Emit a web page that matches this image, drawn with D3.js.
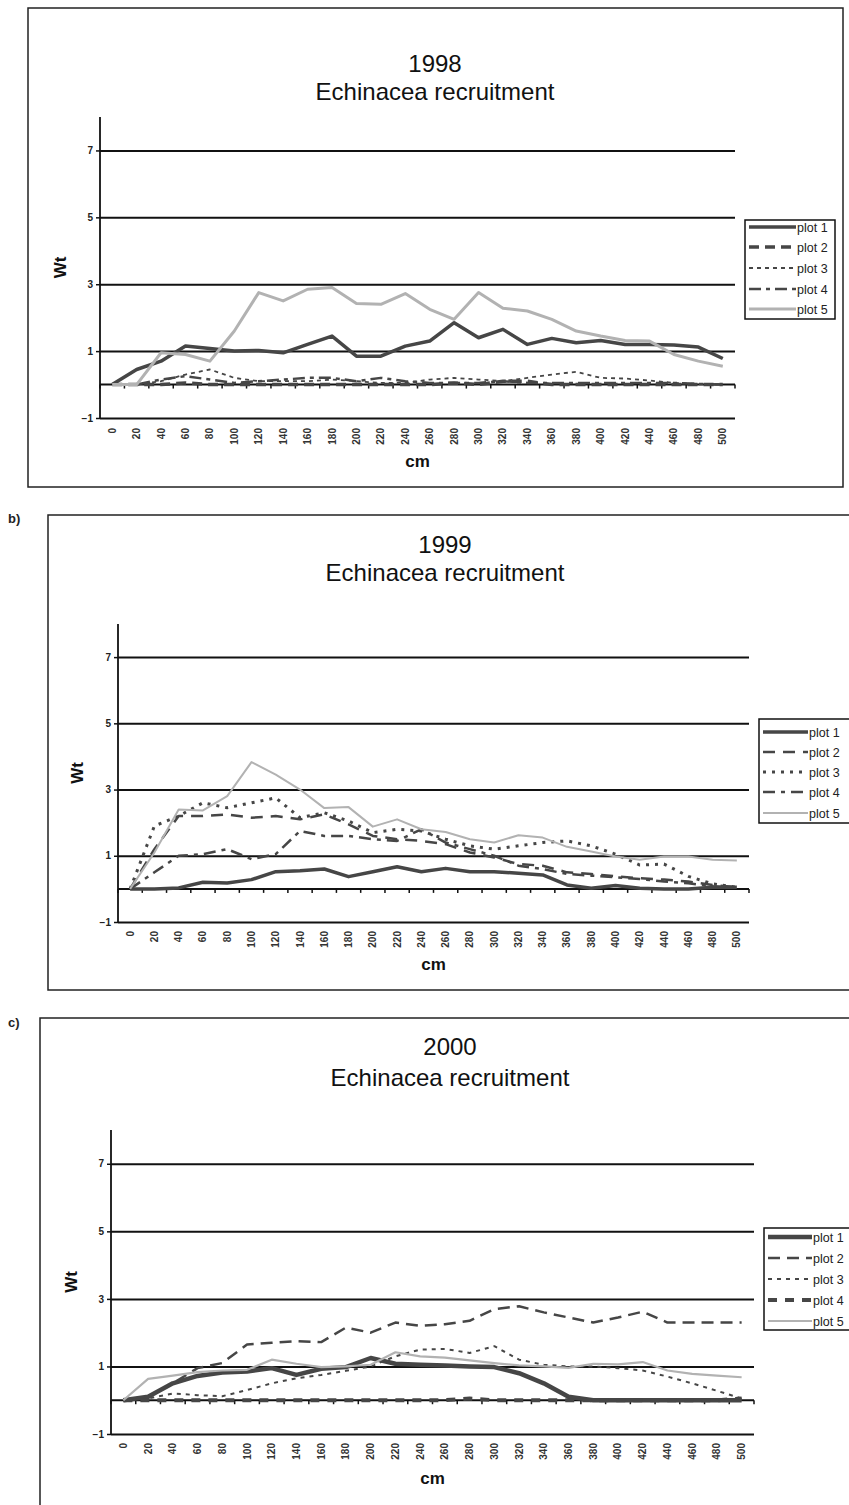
<!DOCTYPE html>
<html>
<head>
<meta charset="utf-8">
<script src="https://cdn.jsdelivr.net/npm/d3@7"></script>
<style>
  body { margin: 0; background: #fff; }
  svg { display: block; font-family: "Liberation Sans", Arial, sans-serif; }
</style>
</head>
<body>
<svg id="chart" width="849" height="1505"></svg>
<script>
// Category labels (cm) and y tick values
const categories = ["0","20","40","60","80","100","120","140","160","180","200","220","240","260","280","300","320","340","360","380","400","420","440","460","480","500"];
const yTicks = [-1, 1, 3, 5, 7];
const seriesNames = ["plot 1", "plot 2", "plot 3", "plot 4", "plot 5"];

// 1998
const plot1_1998 = [0, 0.45, 0.7, 1.15, 1.08, 1.0, 1.02, 0.95, 1.2, 1.45, 0.85, 0.85, 1.15, 1.3, 1.85, 1.4, 1.65, 1.2, 1.38, 1.25, 1.32, 1.2, 1.2, 1.18, 1.12, 0.78];
const plot2_1998 = [0, 0, 0, 0.05, 0, 0, 0, 0, 0, 0, 0, 0, 0, 0, 0.05, 0, 0.1, 0.1, 0, 0, 0, 0, 0, 0, 0, 0];
const plot3_1998 = [0, 0, 0.1, 0.3, 0.45, 0.2, 0.1, 0.1, 0.1, 0.15, 0.1, 0.05, 0.05, 0.15, 0.2, 0.15, 0.1, 0.2, 0.3, 0.38, 0.2, 0.18, 0.12, 0.05, 0.02, 0];
const plot4_1998 = [0, 0, 0.15, 0.25, 0.15, 0.05, 0.1, 0.15, 0.2, 0.2, 0.1, 0.2, 0.1, 0.05, 0.05, 0.05, 0.1, 0.05, 0.05, 0.05, 0.05, 0.05, 0.05, 0.05, 0.02, 0];
const plot5_1998 = [0, 0, 0.95, 0.9, 0.7, 1.6, 2.75, 2.5, 2.85, 2.9, 2.42, 2.4, 2.72, 2.25, 1.95, 2.75, 2.28, 2.2, 1.95, 1.6, 1.45, 1.32, 1.3, 0.9, 0.7, 0.55];

// 1999
const plot1_1999 = [0, 0, 0.03, 0.2, 0.18, 0.28, 0.52, 0.55, 0.6, 0.37, 0.52, 0.67, 0.52, 0.62, 0.52, 0.52, 0.47, 0.42, 0.12, 0.02, 0.1, 0.02, 0, 0, 0.05, 0.05];
const plot2_1999 = [0, 1.2, 2.2, 2.2, 2.25, 2.15, 2.2, 2.1, 2.25, 1.95, 1.6, 1.5, 1.45, 1.35, 1.1, 0.95, 0.75, 0.7, 0.5, 0.45, 0.38, 0.32, 0.28, 0.22, 0.12, 0.05];
const plot3_1999 = [0, 1.9, 2.2, 2.6, 2.45, 2.6, 2.75, 2.15, 2.3, 2.05, 1.7, 1.8, 1.75, 1.5, 1.3, 1.2, 1.3, 1.4, 1.45, 1.3, 1.05, 0.72, 0.75, 0.38, 0.15, 0.05];
const plot4_1999 = [0, 0.5, 1.0, 1.05, 1.2, 0.9, 1.05, 1.75, 1.6, 1.6, 1.5, 1.45, 1.8, 1.4, 1.2, 1.0, 0.7, 0.6, 0.45, 0.4, 0.35, 0.3, 0.22, 0.17, 0.08, 0.03];
const plot5_1999 = [0, 1.1, 2.4, 2.37, 2.8, 3.83, 3.45, 3.0, 2.44, 2.47, 1.88, 2.1, 1.8, 1.72, 1.5, 1.4, 1.62, 1.55, 1.27, 1.13, 0.98, 0.88, 0.98, 0.98, 0.88, 0.86];

// 2000
const plot1_2000 = [0, 0.1, 0.5, 0.72, 0.82, 0.85, 0.95, 0.75, 0.93, 0.98, 1.25, 1.08, 1.05, 1.03, 1.0, 0.98, 0.8, 0.5, 0.1, 0, 0, 0, 0, 0, 0, 0];
const plot2_2000 = [0, 0.1, 0.5, 0.95, 1.1, 1.65, 1.7, 1.75, 1.72, 2.15, 2.0, 2.3, 2.2, 2.25, 2.35, 2.7, 2.78, 2.6, 2.45, 2.3, 2.45, 2.62, 2.3, 2.3, 2.3, 2.3];
const plot3_2000 = [0, 0.05, 0.2, 0.15, 0.12, 0.3, 0.5, 0.65, 0.75, 0.87, 1.0, 1.3, 1.5, 1.52, 1.4, 1.6, 1.2, 1.05, 1.0, 1.0, 0.95, 0.88, 0.7, 0.5, 0.28, 0.05];
const plot4_2000 = [0, 0, 0, 0, 0, 0, 0, 0, 0, 0, 0, 0, 0, 0, 0.05, 0, 0, 0, 0, 0, 0, 0, 0, 0, 0, 0.05];
const plot5_2000 = [0, 0.63, 0.73, 0.83, 0.88, 0.9, 1.2, 1.08, 0.98, 1.0, 1.05, 1.42, 1.3, 1.26, 1.18, 1.1, 1.03, 1.0, 0.96, 1.08, 1.06, 1.13, 0.88, 0.78, 0.73, 0.68];

const DARK = "#464646";
const LIGHT = "#b2b2b2";

// line styles, one per series, per panel
const styles1998 = [
  { color: DARK, width: 3.5, dash: null },
  { color: DARK, width: 3.5, dash: "10,6" },
  { color: DARK, width: 1.8, dash: "4,4" },
  { color: DARK, width: 2.5, dash: "12,5,4,5" },
  { color: LIGHT, width: 3, dash: null }
];
const styles1999 = [
  { color: DARK, width: 3.5, dash: null },
  { color: DARK, width: 2.5, dash: "12,8" },
  { color: DARK, width: 3, dash: "3,6" },
  { color: DARK, width: 2.5, dash: "12,6,4,6" },
  { color: LIGHT, width: 2, dash: null }
];
const styles2000 = [
  { color: DARK, width: 4.5, dash: null },
  { color: DARK, width: 2.5, dash: "12,7" },
  { color: DARK, width: 2, dash: "4,5" },
  { color: DARK, width: 4, dash: "9,8" },
  { color: LIGHT, width: 2.2, dash: null }
];

const panels = [
  {
    year: "1998", tag: null,
    series: [plot1_1998, plot2_1998, plot3_1998, plot4_1998, plot5_1998], styles: styles1998,
    frame: [28, 8, 815, 479], left: 100, right: 735, top: 117, bottom: 418,
    titleX: 435, titleY: [72, 100], wtX: 66, cmY: 467, labelY: 428,
    legend: { x: 745, y: 220, w: 90, h: 99, rows: [227, 247, 268, 289, 309], lineX: [749, 796], textX: 797 }
  },
  {
    year: "1999", tag: "b)", tagY: 523,
    series: [plot1_1999, plot2_1999, plot3_1999, plot4_1999, plot5_1999], styles: styles1999,
    frame: [48, 515, 830, 475], left: 118, right: 749, top: 624, bottom: 922,
    titleX: 445, titleY: [553, 581], wtX: 83, cmY: 970, labelY: 931,
    legend: { x: 759, y: 719, w: 100, h: 104, rows: [732, 752, 772, 792, 813], lineX: [763, 808], textX: 809 }
  },
  {
    year: "2000", tag: "c)", tagY: 1027,
    series: [plot1_2000, plot2_2000, plot3_2000, plot4_2000, plot5_2000], styles: styles2000,
    frame: [40, 1018, 830, 495], left: 111, right: 754, top: 1130, bottom: 1434,
    titleX: 450, titleY: [1055, 1086], wtX: 77, cmY: 1484, labelY: 1443,
    legend: { x: 764, y: 1228, w: 100, h: 102, rows: [1237, 1258, 1279, 1300, 1321], lineX: [768, 812], textX: 813 }
  }
];

const svg = d3.select("#chart");

function drawPanel(p) {
  const g = svg.append("g");

  // chart area border
  g.append("rect")
    .attr("x", p.frame[0]).attr("y", p.frame[1])
    .attr("width", p.frame[2]).attr("height", p.frame[3])
    .attr("fill", "none").attr("stroke", "#222").attr("stroke-width", 1.5);

  if (p.tag) {
    svg.append("text")
      .attr("x", 8).attr("y", p.tagY)
      .attr("font-size", 13).attr("font-weight", "bold").attr("fill", "#222")
      .text(p.tag);
  }

  // titles
  g.append("text").attr("x", p.titleX).attr("y", p.titleY[0])
    .attr("text-anchor", "middle").attr("font-size", 24).attr("fill", "#111").text(p.year);
  g.append("text").attr("x", p.titleX).attr("y", p.titleY[1])
    .attr("text-anchor", "middle").attr("font-size", 24).attr("fill", "#111").text("Echinacea recruitment");

  const x = d3.scaleBand().domain(categories).range([p.left, p.right]);
  const y = d3.scaleLinear().domain([-1, 8]).range([p.bottom, p.top]);
  const cx = (c) => x(c) + x.bandwidth() / 2;

  // gridlines + y axis labels
  const yAxis = d3.axisLeft(y).tickValues(yTicks).tickSize(4).tickFormat(d3.format("d"));
  const yg = g.append("g").attr("transform", `translate(${p.left},0)`).call(yAxis);
  yg.select(".domain").remove();
  yg.selectAll(".tick line").attr("stroke", "#111").attr("stroke-width", 1.5);
  yg.selectAll(".tick text")
    .attr("font-size", 10).attr("font-weight", "bold").attr("fill", "#222")
    .attr("font-family", "Liberation Sans, Arial, sans-serif").attr("x", -7);

  const grid = d3.axisLeft(y).tickValues(yTicks).tickSize(-(p.right - p.left)).tickFormat("");
  const gg = g.append("g").attr("transform", `translate(${p.left},0)`).call(grid);
  gg.select(".domain").remove();
  gg.selectAll(".tick line").attr("stroke", "#111").attr("stroke-width", 2);

  // value axis line
  g.append("line")
    .attr("x1", p.left).attr("x2", p.left)
    .attr("y1", y(8)).attr("y2", y(-1))
    .attr("stroke", "#111").attr("stroke-width", 1.8);

  // category axis crossing at 0, ticks between categories
  const y0 = y(0);
  g.append("line")
    .attr("x1", p.left).attr("x2", p.right)
    .attr("y1", y0).attr("y2", y0)
    .attr("stroke", "#111").attr("stroke-width", 2);
  const tickPos = categories.map((c) => x(c)).concat([p.right]);
  g.selectAll(".xtick").data(tickPos).enter().append("line")
    .attr("x1", (d) => d).attr("x2", (d) => d)
    .attr("y1", y0).attr("y2", y0 + 4)
    .attr("stroke", "#111").attr("stroke-width", 1.5);

  // rotated category labels at the bottom
  g.selectAll(".xlab").data(categories).enter().append("text")
    .attr("transform", (d) => `translate(${cx(d) + 3.5},${p.labelY}) rotate(-90)`)
    .attr("text-anchor", "end")
    .attr("font-size", 10).attr("font-weight", "bold").attr("fill", "#333")
    .text((d) => d);

  // axis titles
  g.append("text")
    .attr("transform", `translate(${p.wtX},${(p.top + p.bottom) / 2}) rotate(-90)`)
    .attr("text-anchor", "middle").attr("font-size", 17).attr("font-weight", "bold").attr("fill", "#111")
    .text("Wt");
  g.append("text")
    .attr("x", (p.left + p.right) / 2).attr("y", p.cmY)
    .attr("text-anchor", "middle").attr("font-size", 17).attr("font-weight", "bold").attr("fill", "#111")
    .text("cm");

  // series lines
  const line = d3.line()
    .x((d, i) => cx(categories[i]))
    .y((d) => y(d));

  p.series.forEach((vals, k) => {
    const s = p.styles[k];
    g.append("path")
      .datum(vals)
      .attr("fill", "none")
      .attr("stroke", s.color)
      .attr("stroke-width", s.width)
      .attr("stroke-dasharray", s.dash)
      .attr("stroke-linejoin", "round")
      .attr("d", line);
  });

  // legend
  const L = p.legend;
  const lg = g.append("g");
  lg.append("rect")
    .attr("x", L.x).attr("y", L.y).attr("width", L.w).attr("height", L.h)
    .attr("fill", "#fff").attr("stroke", "#111").attr("stroke-width", 1.5);
  seriesNames.forEach((name, k) => {
    const s = p.styles[k];
    lg.append("line")
      .attr("x1", L.lineX[0]).attr("x2", L.lineX[1])
      .attr("y1", L.rows[k]).attr("y2", L.rows[k])
      .attr("stroke", s.color).attr("stroke-width", s.width)
      .attr("stroke-dasharray", s.dash);
    lg.append("text")
      .attr("x", L.textX).attr("y", L.rows[k] + 4.5)
      .attr("font-size", 12.5).attr("fill", "#222")
      .text(name);
  });
}

panels.forEach(drawPanel);
</script>
</body>
</html>
